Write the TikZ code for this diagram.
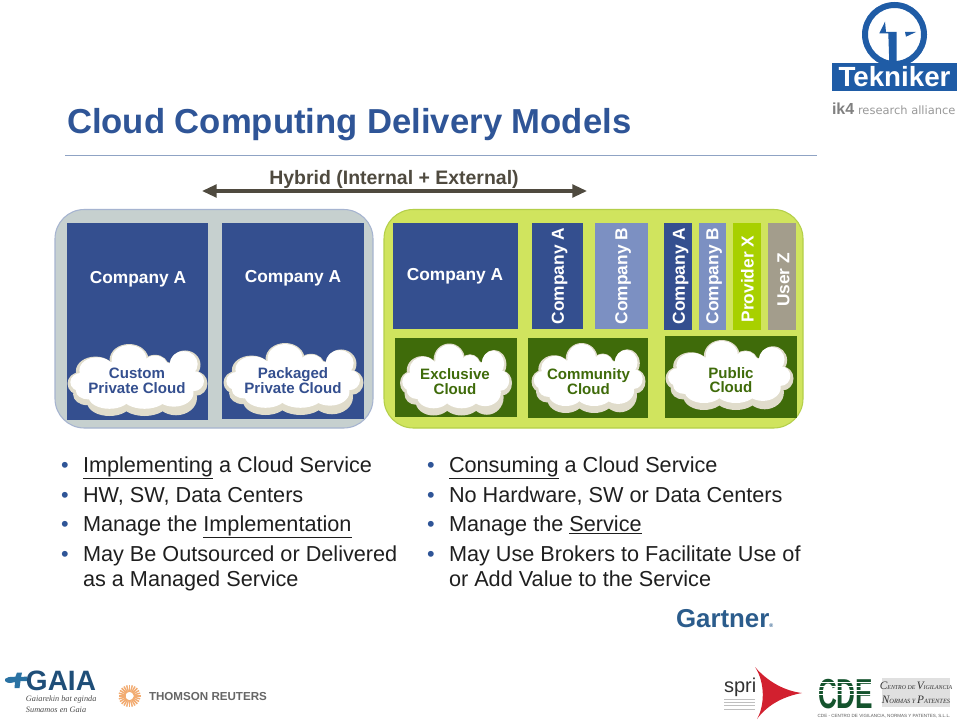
\documentclass[tikz,border=0pt]{standalone}
\usepackage{fontspec}
\setmainfont{Liberation Sans}
\newfontfamily\thinfont{DejaVu Sans}
\newfontfamily\logoserif{Liberation Serif}
\usetikzlibrary{arrows.meta,calc}
\definecolor{navy}{HTML}{344F8F}
\definecolor{peri}{HTML}{7C90C2}
\definecolor{dkgreen}{HTML}{3F6B0A}
\definecolor{lime}{HTML}{D0E45E}
\definecolor{limeedge}{HTML}{B4CF4A}
\definecolor{provider}{HTML}{A8D000}
\definecolor{userz}{HTML}{A39D8C}
\definecolor{greygrp}{HTML}{C6D0CF}
\definecolor{greyedge}{HTML}{A6B4D0}
\definecolor{titleblue}{HTML}{2F5597}
\definecolor{rulecol}{HTML}{8FA3C4}
\definecolor{arrowcol}{HTML}{4F4A3F}
\definecolor{cream}{HTML}{E0DCCB}
\definecolor{tekblue}{HTML}{1F5CA6}
\definecolor{gaiablue}{HTML}{1F4E78}
\definecolor{gaiaplus}{HTML}{2A72A3}
\definecolor{cdegreen}{HTML}{14532D}
\definecolor{sprired}{HTML}{D2202F}
\definecolor{gartblue}{HTML}{2B5C8C}
\definecolor{burst}{HTML}{F2AC72}
\tikzset{
  txt/.style={inner sep=0pt,outer sep=0pt},
  bigw/.style={txt,text=white,font=\bfseries\fontsize{13}{13}\selectfont},
  vert/.style={bigw,rotate=90},
  cloudtxt/.style={txt,align=center,font=\bfseries\fontsize{11.3}{11}\selectfont},
  bul/.style={txt,anchor=base west,text=black!88,font=\fontsize{16.25}{16.25}\selectfont},
  dotb/.style={txt,anchor=base west,text=titleblue,font=\fontsize{16.25}{16.25}\selectfont},
}
\newcommand{\cloudblob}[4]{%
  \begin{scope}[shift={(#1,#2)},xscale=#3,yscale=#4]
    \foreach \ca/\cb/\cc/\cd in {-.82/.1/.18/.32,-.6/-.25/.28/.4,-.12/-.55/.28/.45,.25/-.35/.2/.35,.68/-.42/.22/.4,.83/.1/.17/.34,.55/.5/.3/.48,.1/.6/.35/.4,-.4/.62/.32/.38,-.72/.4/.2/.3,0/.05/.8/.65}
      {\fill[cream] (\ca,\cb) ellipse [x radius=\cc,y radius=\cd];}
    \foreach \ca/\cb/\cc/\cd in {-.8/.06/.16/.26,-.58/-.27/.25/.36,-.12/-.57/.25/.4,.25/-.38/.18/.3,.66/-.44/.2/.36,.8/.03/.15/.28,.52/.36/.28/.38,.1/.44/.33/.36,-.4/.46/.3/.34,-.7/.3/.18/.24,0/0/.76/.58}
      {\fill[white] (\ca,\cb) ellipse [x radius=\cc,y radius=\cd];}
  \end{scope}}
\begin{document}
\begin{tikzpicture}[x=0.75pt,y=-0.75pt]
\useasboundingbox (0,0) rectangle (960,720);
\fill[white] (0,0) rectangle (960,720);

% title
\node[txt,anchor=base west,text=titleblue,font=\bfseries\fontsize{26}{26}\selectfont] (title) at (67,133.5) {Cloud Computing Delivery Models};
\coordinate (ruleL) at (65,155); \coordinate (ruleR) at (817,155);
\draw[rulecol,line width=.6pt] (ruleL) -- (ruleR);

% hybrid
\node[txt,text=arrowcol,font=\bfseries\fontsize{14.6}{14.6}\selectfont] (hybrid) at (394,179.5) {Hybrid (Internal + External)};
\coordinate (hL) at (202,191); \coordinate (hR) at (587,191);
\draw[arrowcol,line width=2.4pt,{Triangle[length=11pt,width=9.5pt]}-{Triangle[length=11pt,width=9.5pt]}] (hL) -- (hR);

% groups
\draw[greyedge,fill=greygrp,line width=.8pt,rounded corners=22pt] (55,209.5) rectangle (373,428);
\draw[limeedge,fill=lime,line width=.8pt,rounded corners=22pt] (384,209.5) rectangle (803,428);

% left boxes
\fill[navy] (67,223) rectangle (208,420);
\fill[navy] (222,223) rectangle (364,419);
\node[bigw] (la) at (138,279.5) {Company A};
\node[bigw] (lb) at (293,278.5) {Company A};
\cloudblob{137.5}{380}{70}{36}
\cloudblob{293.5}{379}{70}{36}
\node[cloudtxt,text=navy] (c1) at (137,380.5) {Custom\\Private Cloud};
\node[cloudtxt,text=navy] (c2) at (293,380.5) {Packaged\\Private Cloud};

% right top boxes
\fill[navy] (393,223) rectangle (518,329);
\fill[navy] (531.5,223) rectangle (583,329);
\fill[peri] (595,223) rectangle (648,329);
\fill[navy] (664,223) rectangle (692,330);
\fill[peri] (699,223) rectangle (726,330);
\fill[provider] (733,223) rectangle (761,330);
\fill[userz] (768,223) rectangle (796,330);
\node[bigw] (ra) at (455,276.5) {Company A};
\node[vert] (v1) at (559.5,276) {Company A};
\node[vert] (v2) at (623,276) {Company B};
\node[vert] (v3) at (680.5,276) {Company A};
\node[vert] (v4) at (714,276) {Company B};
\node[vert] (v5) at (747.5,279) {Provider X};
\node[vert] (v6) at (783.5,280) {User Z};

% right bottom boxes
\fill[dkgreen] (395,338) rectangle (517,417);
\fill[dkgreen] (528,338) rectangle (648,418);
\fill[dkgreen] (665,336) rectangle (797,418);
\cloudblob{456}{379.5}{56}{36}
\cloudblob{588.5}{378}{57}{35}
\cloudblob{729.5}{375}{64}{35}
\node[cloudtxt,text=dkgreen] (c3) at (455,381.5) {Exclusive\\Cloud};
\node[cloudtxt,text=dkgreen] (c4) at (588.5,381.5) {Community\\Cloud};
\node[cloudtxt,text=dkgreen] (c5) at (731,380) {Public\\Cloud};

% bullets left
\node[dotb] (bl1) at (61,472) {•};
\node[dotb] (bl2) at (61,502) {•};
\node[dotb] (bl3) at (61,531) {•};
\node[dotb] (bl4) at (61,561) {•};
\node[bul] (tl1) at (83,472) {\underline{Implementing} a Cloud Service};
\node[bul] (tl2) at (83,502) {HW, SW, Data Centers};
\node[bul] (tl3) at (83,531) {Manage the \underline{Implementation}};
\node[bul] (tl4) at (83,561) {May Be Outsourced or Delivered};
\node[bul] (tl5) at (83,586) {as a Managed Service};

% bullets right
\node[dotb] (br1) at (427,472) {•};
\node[dotb] (br2) at (427,502) {•};
\node[dotb] (br3) at (427,531) {•};
\node[dotb] (br4) at (427,561) {•};
\node[bul] (tr1) at (449,472) {\underline{Consuming} a Cloud Service};
\node[bul] (tr2) at (449,502) {No Hardware, SW or Data Centers};
\node[bul] (tr3) at (449,531) {Manage the \underline{Service}};
\node[bul] (tr4) at (449,561) {May Use Brokers to Facilitate Use of};
\node[bul] (tr5) at (449,586) {or Add Value to the Service};

% Gartner
\node[txt,anchor=base west,text=gartblue,font=\bfseries\fontsize{19.4}{20}\selectfont] (gart) at (676,627) {Gartner\raisebox{0pt}{\fontsize{4}{4}\selectfont ®}};

% Tekniker logo
\draw[tekblue,line width=4.5pt] (894.5,34.5) circle (29.5);
\fill[tekblue] (832,63) rectangle (957,91);
\fill[tekblue] (885,21.7) -- (879.3,33.3) -- (888.3,33.3) -- (889.3,63) -- (896.7,63) -- (896.7,32) -- (886,32) -- cycle;
\fill[tekblue] (905,32) -- (916,32) -- (906,36.7) -- cycle;
\node[txt,text=white,font=\bfseries\fontsize{20.8}{20.8}\selectfont] (tek) at (894.5,77) {Tekniker};
\node[txt,anchor=base west,text=black!50,font=\bfseries\fontsize{12}{12}\selectfont] (ik4) at (832,115) {ik4};
\node[txt,anchor=base west,text=black!40,font=\thinfont\fontsize{8.6}{8.6}\selectfont] (ra4) at (858,115) {research alliance};

% GAIA logo
\fill[gaiaplus] (5,679) .. controls (10,675) and (14,678) .. (15.5,676.5) -- (17,672.5) -- (22,672.5) -- (21,677) -- (27,676.5) -- (27,681) -- (20.5,681) -- (19.5,688) -- (14.5,688) -- (15,682) .. controls (11,683) and (8,684) .. (5,681) -- cycle;
\node[txt,anchor=base west,text=gaiablue,font=\bfseries\fontsize{21}{21}\selectfont] (gaia) at (26,690) {GAIA};
\node[txt,anchor=base west,text=black!70,font=\logoserif\itshape\fontsize{6.2}{6.2}\selectfont] (g1) at (26,701.5) {Gaiarekin bat eginda};
\node[txt,anchor=base west,text=black!70,font=\logoserif\itshape\fontsize{6.2}{6.2}\selectfont] (g2) at (26,712.5) {Sumamos en Gaia};

% Thomson Reuters
\coordinate (burstc) at (129.5,696);
\foreach \ang in {0,15,...,345}{\draw[burst,line width=1.1pt] ($(burstc)+(\ang:4)$) -- ($(burstc)+(\ang:11)$);}
\node[txt,anchor=base west,text=black!60,font=\bfseries\fontsize{8.7}{8.7}\selectfont] (tr) at (149,700) {THOMSON REUTERS};

% spri
\node[txt,anchor=base west,text=black!80,font=\fontsize{15}{15}\selectfont] (spri) at (724,692) {spri};
\foreach \ly in {699,702.3,705.6,709}{\draw[black!25,line width=.7pt] (724,\ly) -- (755,\ly);}
\fill[sprired] (755,667) .. controls (768,682) and (785,691) .. (802,693) .. controls (785,696) and (768,704) .. (757,719) .. controls (765,705) and (765,682) .. (755,667) -- cycle;

% CDE
\node[txt,anchor=base west,text=cdegreen,font=\bfseries\fontsize{31.4}{31.4}\selectfont] (cde) at (818,708) {\scalebox{0.625}[1]{CDE}};
\foreach \ly in {682,686,690,694}{\fill[white] (817,\ly) rectangle (874,\ly+1.1);}
\fill[black!12] (882,678) rectangle (950,707);
\node[txt,text=black!80,font=\logoserif\itshape\fontsize{4.4}{4.4}\selectfont] (cv1) at (916,686) {{\fontsize{8.5}{8.5}\selectfont C}ENTRO DE {\fontsize{8.5}{8.5}\selectfont V}IGILANCIA};
\node[txt,text=black!80,font=\logoserif\itshape\fontsize{4.8}{4.8}\selectfont] (cv2) at (916,700) {{\fontsize{8.5}{8.5}\selectfont N}ORMAS Y {\fontsize{8.5}{8.5}\selectfont P}ATENTES};
\node[txt,text=black!65,font=\fontsize{3.4}{3.4}\selectfont] (cdefoot) at (884,716) {CDE - CENTRO DE VIGILANCIA, NORMAS Y PATENTES, S.L.L.};
\end{tikzpicture}
\end{document}
